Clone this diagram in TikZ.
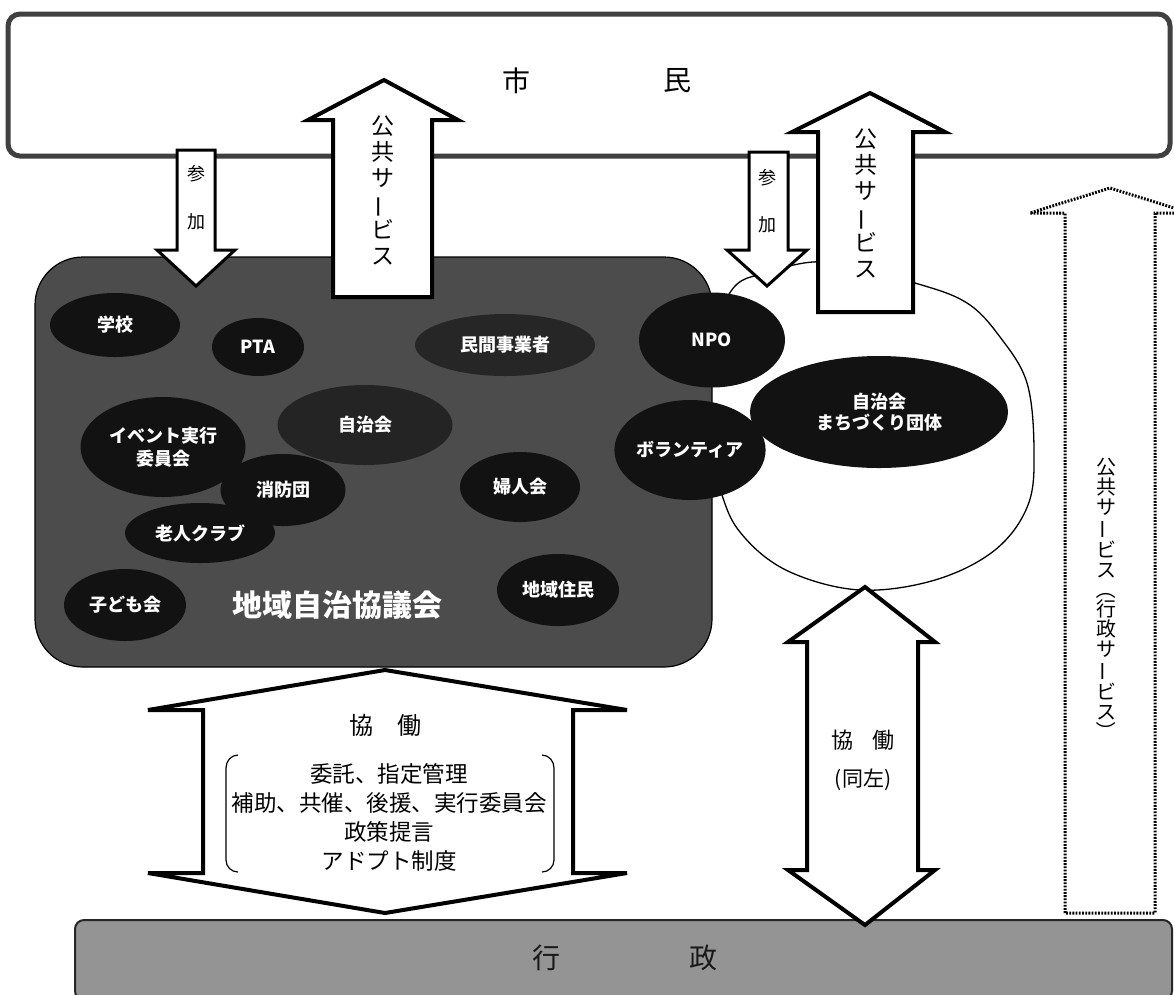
\documentclass[tikz,border=0pt]{standalone}
\usepackage{fontspec}
\usepackage{graphicx}
\newfontfamily\jp{Noto Sans CJK JP}
\usetikzlibrary{shapes.geometric}
\tikzset{
  arrowshape/.style={draw=black, line width=4pt, fill=white, line join=miter},
  thinarrow/.style={draw=black, line width=3pt, fill=white, line join=miter},
  dotarrow/.style={draw=black, line width=3pt, dash pattern=on 1.8pt off 1.4pt},
  orgell/.style={ellipse, fill=black!93, draw=none, inner sep=0pt},
  lbl/.style={text=white, font=\jp\bfseries\fontsize{18}{21}\selectfont, align=center},
  vtxt/.style={font=\jp\fontsize{23}{26}\selectfont, align=center, inner sep=0pt},
  btxt/.style={font=\jp\fontsize{22.5}{29}\selectfont, align=center, inner sep=0pt},
}
\newcommand{\vbar}{\rotatebox[origin=c]{90}{ー}}
\newcommand{\vparl}{\rotatebox[origin=c]{-90}{（}}
\newcommand{\vparr}{\rotatebox[origin=c]{-90}{）}}
\begin{document}
\begin{tikzpicture}[x=1pt,y=-1pt]
\useasboundingbox (0,0) rectangle (1174,994);
\fill[white] (0,0) rectangle (1174,994);

% citizens box
\draw[line width=5pt, draw=black!75, fill=white, rounded corners=12pt] (8,14) rectangle (1170,156);
\node[font=\jp\fontsize{28}{30}\selectfont] (shi) at (516,81) {市};
\node[font=\jp\fontsize{28}{30}\selectfont] (min) at (677,81) {民};

% administration box
\draw[line width=2pt, draw=black!85, fill=black!42, rounded corners=9pt] (75,920) rectangle (1172,1000);
\node[font=\jp\fontsize{28}{30}\selectfont, text=black!90] (gyo) at (546,958) {行};
\node[font=\jp\fontsize{28}{30}\selectfont, text=black!90] (sei) at (703,958) {政};

% blob around NPO etc.
\draw[line width=1.3pt, fill=white] plot[smooth cycle, tension=0.6] coordinates {
  (728,296) (770,272) (830,262) (915,283) (967,303) (1000,337) (1027,383)
  (1034,450) (1028,505) (995,550) (935,580) (860,590) (790,572) (745,538) (722,495) (700,400)};

% council box
\draw[line width=1.2pt, draw=black, fill=black!70, rounded corners=48pt] (35,257) rectangle (712,667);

% organisations inside
\node[orgell, minimum width=130pt, minimum height=64pt, lbl] (gakko) at (115,325) {学校};
\node[orgell, minimum width=92pt, minimum height=58pt, lbl] (pta) at (258,347) {PTA};
\node[orgell, fill=black!85, minimum width=180pt, minimum height=62pt, lbl] (minkan) at (505,345) {民間事業者};
\node[orgell, minimum width=165pt, minimum height=100pt, lbl] (event) at (163,447) {イベント実行\\[2pt]委員会};
\node[orgell, fill=black!86, minimum width=175pt, minimum height=80pt, lbl] (jichi) at (365,425) {自治会};
\node[orgell, minimum width=120pt, minimum height=70pt, lbl] (fujin) at (520,487) {婦人会};
\node[orgell, minimum width=125pt, minimum height=72pt, lbl] (shobo) at (283,490) {消防団};
\node[orgell, minimum width=150pt, minimum height=60pt, lbl] (rojin) at (200,533) {老人クラブ};
\node[orgell, minimum width=122pt, minimum height=72pt, lbl] (kodomo) at (125,605) {子ども会};
\node[orgell, minimum width=122pt, minimum height=72pt, lbl] (jumin) at (558,590) {地域住民};
\node[text=white, font=\jp\bfseries\fontsize{30}{32}\selectfont] (kyogikai) at (337,605) {地域自治協議会};

% organisations outside
\node[orgell, minimum width=146pt, minimum height=95pt, lbl] (npo) at (712,340) {NPO};
\node[orgell, minimum width=146pt, minimum height=100pt, lbl] (volunteer) at (690,450) {ボランティア};
\node[orgell, minimum width=258pt, minimum height=112pt, lbl] (machi) at (879,412) {自治会\\まちづくり団体};

% left participation arrow
\draw[thinarrow] (177,150) -- (215,150) -- (215,250) -- (235,250) -- (196,286) -- (157,250) -- (177,250) -- cycle;
\node[font=\jp\fontsize{18}{20}\selectfont] (sanka1a) at (196,174) {参};
\node[font=\jp\fontsize{18}{20}\selectfont] (sanka1b) at (196,222) {加};

% left public service arrow
\draw[arrowshape] (333,297) -- (333,120) -- (308,120) -- (384,80) -- (458,120) -- (432,120) -- (432,297) -- cycle;
\node[vtxt] (ps1) at (383,190) {公\\共\\サ\\\vbar\\ビ\\ス};

% right participation arrow
\draw[thinarrow] (749,152) -- (788,152) -- (788,250) -- (807,250) -- (767,286) -- (727,250) -- (749,250) -- cycle;
\node[font=\jp\fontsize{18}{20}\selectfont] (sanka2a) at (767,178) {参};
\node[font=\jp\fontsize{18}{20}\selectfont] (sanka2b) at (767,225) {加};

% right public service arrow
\draw[arrowshape] (818,312) -- (818,132) -- (792,132) -- (870,93) -- (945,132) -- (913,132) -- (913,312) -- cycle;
\node[vtxt] (ps2) at (866,203) {公\\共\\サ\\\vbar\\ビ\\ス};

% dotted administrative service arrow
\draw[dotarrow] (1065,913) -- (1065,213) -- (1030,213) -- (1110,188) -- (1190,213) -- (1155,213) -- (1155,913) -- cycle;
\node[font=\jp\fontsize{20}{19.8}\selectfont, align=center, inner sep=0pt] (ps3) at (1106,600)
  {公\\共\\サ\\\vbar\\ビ\\ス\\\vparl\\行\\政\\サ\\\vbar\\ビ\\ス\\\vparr};

% left collaboration double arrow
\draw[arrowshape] (385,670) -- (627,710) -- (573,710) -- (573,873) -- (627,873) -- (385,913)
  -- (148,873) -- (203,873) -- (203,710) -- (148,710) -- cycle;
\node[font=\jp\fontsize{24}{26}\selectfont] (kyodo1) at (385,725) {協\hspace{1em}働};
\node[btxt] (kyodolist) at (389,817) {委託、指定管理\\補助、共催、後援、実行委員会\\政策提言\\アドプト制度};
\draw[line width=1.2pt] (238,755) to[out=180,in=90] (226,768) -- (226,860) to[out=-90,in=180] (238,872);
\draw[line width=1.2pt] (542,755) to[out=0,in=90] (554,768) -- (554,860) to[out=-90,in=0] (542,872);

% right collaboration double arrow
\draw[arrowshape] (865,587) -- (935,642) -- (918,642) -- (918,870) -- (935,870) -- (865,925)
  -- (788,870) -- (807,870) -- (807,642) -- (788,642) -- cycle;
\node[font=\jp\fontsize{22}{24}\selectfont] (kyodo2) at (863,740) {協\hspace{0.9em}働};
\node[font=\jp\fontsize{21}{23}\selectfont] (dosa) at (863,780) {(同左)};
\end{tikzpicture}
\end{document}
